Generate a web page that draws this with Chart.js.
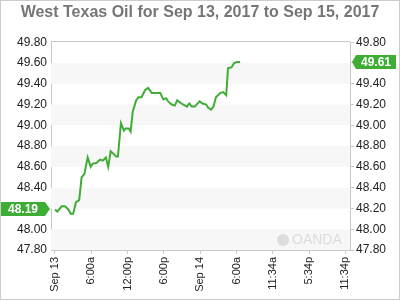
<!DOCTYPE html>
<html>
<head>
<meta charset="utf-8">
<script src="https://cdn.jsdelivr.net/npm/chart.js"></script>
<style>
body { margin: 0; background: #fff; }
</style>
</head>
<body>
<canvas id="oilChart" width="400" height="300"></canvas>
<script>
// hours since Sep 13 00:00
var timeHours = [0, 0.38, 1.11, 1.65, 2.2, 2.6, 3.0, 3.47, 4.0, 4.4, 4.85, 5.4, 5.9, 6.2, 6.9, 7.45, 7.9, 8.4, 8.8, 9.2,
    9.6, 10.1, 10.4, 10.9, 11.4, 11.7, 12.2, 12.5, 12.85, 13.4, 13.8, 14.3, 14.9, 15.4, 16.0, 16.8, 17.4, 17.9, 18.35, 18.7,
    19.3, 19.8, 20.2, 20.9, 21.8, 22.2, 22.6, 23.1, 23.9, 24.4, 25.0, 25.3, 25.8, 26.2, 26.6, 27.3, 27.8, 28.3, 28.6, 29.2,
    29.6, 30.1, 30.6];
var oilPrices = [48.19, 48.17, 48.22, 48.22, 48.19, 48.15, 48.15, 48.26, 48.28, 48.50, 48.53, 48.69, 48.60, 48.63, 48.64, 48.67, 48.66, 48.69, 48.60, 48.75,
    48.73, 48.70, 48.70, 49.02, 48.95, 48.97, 48.97, 48.94, 49.13, 49.24, 49.27, 49.27, 49.34, 49.36, 49.31, 49.31, 49.31, 49.25, 49.26, 49.23,
    49.20, 49.19, 49.24, 49.21, 49.18, 49.21, 49.18, 49.18, 49.23, 49.21, 49.20, 49.17, 49.15, 49.18, 49.27, 49.31, 49.32, 49.29, 49.55, 49.56,
    49.60, 49.61, 49.61];
var xTickHours = [0, 6, 12, 18, 24, 30, 36, 42, 48];
var xTickLabels = ['Sep 13', '6:00a', '12:00p', '6:00p', 'Sep 14', '6:00a', '11:34a', '5:34p', '11:34p'];

var lineGreen = '#3fad35';
Chart.defaults.font.family = "'Liberation Sans', Arial, sans-serif";

var points = timeHours.map(function (h, i) { return { x: h, y: oilPrices[i] }; });

var bandsPlugin = {
    id: 'bands',
    beforeDatasetsDraw: function (chart) {
        var c = chart.ctx, a = chart.chartArea, ys = chart.scales.y;
        var t = ys.ticks;
        c.save();
        c.fillStyle = '#f7f7f7';
        for (var i = 0; i < t.length - 1; i += 2) {
            var y1 = ys.getPixelForValue(t[i].value);
            var y2 = ys.getPixelForValue(t[i + 1].value);
            c.fillRect(a.left, y2, a.right - a.left, y1 - y2);
        }
        // top edge of the frame
        c.strokeStyle = '#c8c8c8';
        c.lineWidth = 1;
        c.beginPath();
        c.moveTo(a.left, Math.round(a.top) - 0.5);
        c.lineTo(a.right, Math.round(a.top) - 0.5);
        c.stroke();
        // watermark
        c.fillStyle = '#dcdcdc';
        c.beginPath();
        c.arc(a.right - 67, a.bottom - 10, 6, 0, Math.PI * 2);
        c.fill();
        c.font = '14px "Liberation Sans", Arial, sans-serif';
        c.textBaseline = 'middle';
        c.fillText('OANDA', a.right - 58, a.bottom - 10);
        c.restore();
    },
    afterDraw: function (chart) {
        var c = chart.ctx, a = chart.chartArea, ys = chart.scales.y;
        var first = oilPrices[0], last = oilPrices[oilPrices.length - 1];
        var y0 = Math.round(ys.getPixelForValue(first));
        var y1 = Math.round(ys.getPixelForValue(last));
        c.save();
        c.fillStyle = lineGreen;
        c.beginPath();
        c.moveTo(0, y0 - 7);
        c.lineTo(45, y0 - 7);
        c.lineTo(a.left - 1, y0);
        c.lineTo(45, y0 + 7);
        c.lineTo(0, y0 + 7);
        c.closePath();
        c.fill();
        c.beginPath();
        c.moveTo(a.right + 2, y1);
        c.lineTo(a.right + 6, y1 - 7);
        c.lineTo(396, y1 - 7);
        c.lineTo(396, y1 + 7);
        c.lineTo(a.right + 6, y1 + 7);
        c.closePath();
        c.fill();
        c.fillStyle = '#fff';
        c.font = 'bold 12px "Liberation Sans", Arial, sans-serif';
        c.textBaseline = 'middle';
        c.textAlign = 'center';
        c.fillText(first.toFixed(2), 23, y0 + 1);
        c.fillText(last.toFixed(2), 376, y1 + 1);
        c.strokeStyle = '#cccccc';
        c.lineWidth = 1;
        c.strokeRect(0.5, 0.5, 399, 299);
        c.restore();
    }
};

var yTicks = {
    stepSize: 0.2,
    color: '#222',
    font: { size: 12 },
    callback: function (v) { return v.toFixed(2); }
};

new Chart(document.getElementById('oilChart'), {
    type: 'line',
    data: {
        datasets: [{
            data: points,
            borderColor: lineGreen,
            borderWidth: 2,
            pointRadius: 0,
            tension: 0,
            fill: false
        }]
    },
    options: {
        responsive: false,
        animation: false,
        layout: { padding: 0 },
        plugins: {
            legend: { display: false },
            tooltip: { enabled: false },
            title: {
                display: true,
                text: 'West Texas Oil for Sep 13, 2017 to Sep 15, 2017',
                color: '#767676',
                font: { size: 16, weight: 'bold' },
                padding: { top: 3, bottom: 20 }
            }
        },
        scales: {
            x: {
                type: 'linear',
                min: -0.66,
                max: 48.76,
                afterBuildTicks: function (axis) {
                    axis.ticks = xTickHours.map(function (h) { return { value: h }; });
                },
                afterFit: function (scale) { scale.height = 50; },
                grid: { drawOnChartArea: false, drawTicks: true, tickLength: 4, color: '#c8c8c8' },
                border: { color: '#c8c8c8' },
                ticks: {
                    autoSkip: false,
                    minRotation: 90,
                    maxRotation: 90,
                    padding: 3,
                    color: '#222',
                    font: { size: 11 },
                    callback: function (v, i) { return xTickLabels[i]; }
                }
            },
            y: {
                position: 'left',
                min: 47.8,
                max: 49.8,
                afterFit: function (scale) { scale.width = 51; },
                grid: { drawOnChartArea: false, drawTicks: false },
                border: { color: '#c8c8c8' },
                ticks: Object.assign({ padding: 4 }, yTicks)
            },
            y2: {
                position: 'right',
                min: 47.8,
                max: 49.8,
                afterFit: function (scale) { scale.width = 50; },
                grid: { drawOnChartArea: false, drawTicks: true, tickLength: 4, color: '#c8c8c8' },
                border: { color: '#c8c8c8' },
                ticks: Object.assign({ padding: 2 }, yTicks)
            }
        }
    },
    plugins: [bandsPlugin]
});
</script>
</body>
</html>
